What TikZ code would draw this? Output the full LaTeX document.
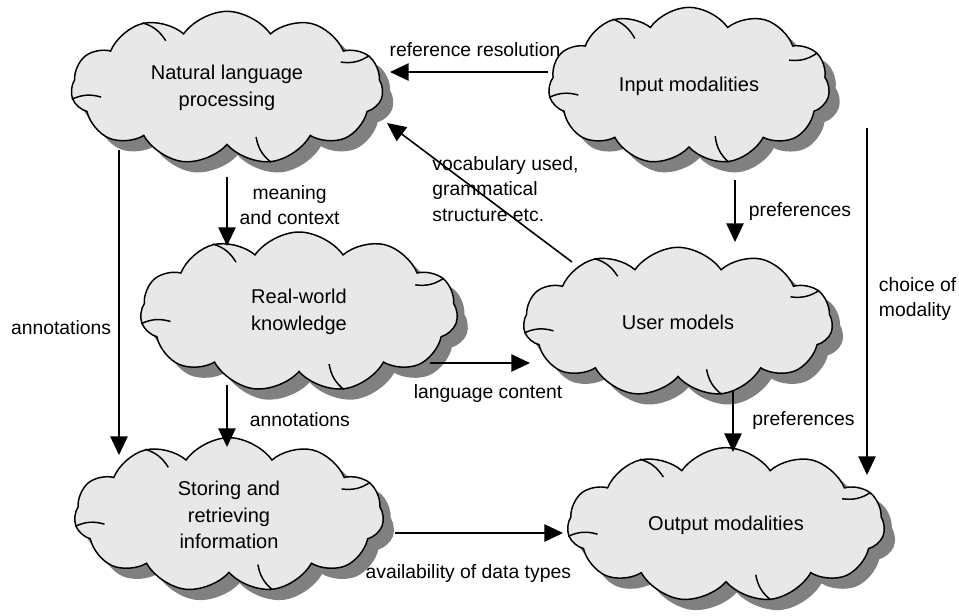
\documentclass[tikz,border=0pt]{standalone}
\usepackage{fontspec}
\setmainfont{Liberation Sans}
\usetikzlibrary{positioning,arrows.meta,shapes.symbols,shadows,calc}

\begin{document}
\begin{tikzpicture}[x=0.75pt,y=-0.75pt,>={Triangle[length=14pt,width=13pt]},
  blob/.style={cloud,cloud puffs=11,cloud puff arc=110,cloud ignores aspect,draw,line width=1.1pt,fill=black!9,
    drop shadow={shadow xshift=8pt,shadow yshift=-8pt,fill=black!50,opacity=1},
    align=center,font=\fontsize{15}{20}\selectfont},
  lbl/.style={font=\fontsize{14.5}{19}\selectfont,align=left,inner sep=1pt},
  link/.style={->,line width=1.2pt}]
\useasboundingbox (0,0) rectangle (959,615);
% the six subject areas
\node[blob,minimum width=234pt,minimum height=115pt] (nlp) at (227,88) {Natural language\\processing};
\node[blob,minimum width=211pt,minimum height=118pt] (input) at (689,86) {Input modalities};
\node[blob,minimum width=238pt,minimum height=120pt] (world) at (299,312) {Real-world\\knowledge};
\node[blob,minimum width=232pt,minimum height=112pt] (user) at (678,322) {User models};
\node[blob,minimum width=232pt,minimum height=116pt] (store) at (229,515) {Storing and\\retrieving\\information};
\node[blob,minimum width=238pt,minimum height=116pt] (output) at (726,525) {Output modalities};
% little curls inside the clouds
\foreach \c in {nlp,input,world,user,store,output}
  \foreach \p in {2,4,7,10}
    \draw[line width=1.1pt] (\c.puff \p) to[bend left=20] ($(\c.puff \p)!22pt!(\c.center)$);
% dependencies
\draw[link] ($(input)+(-141,-14)$) -- ($(nlp)+(163,-16)$) node[midway,lbl,xshift=4.5pt,yshift=16.5pt]{reference resolution};
\draw[link] ($(user)+(-106,-60)$) -- ($(nlp)+(160,35)$) node[midway,lbl,xshift=19.5pt,yshift=2.6pt]{vocabulary used,\\grammatical\\structure etc.};
\draw[link] ($(nlp)+(0,89)$) -- ($(world)+(-72,-66)$) node[midway,lbl,align=center,xshift=47pt,yshift=5pt]{meaning\\and context};
\draw[link] ($(input)+(46,94)$) -- ($(user)+(57,-80)$) node[midway,lbl,xshift=48.7pt,yshift=-0.7pt]{preferences};
\draw[link] ($(input)+(178,42)$) -- ($(output)+(141,-50)$) node[midway,lbl,xshift=38pt,yshift=2pt]{choice of\\modality};
\draw[link] ($(nlp)+(-108,62)$) -- ($(store)+(-110,-60)$) node[midway,lbl,xshift=-43.5pt,yshift=-19pt]{annotations};
\draw[link] ($(world)+(-72,73)$) -- ($(store)+(-2,-68)$) node[midway,lbl,xshift=54.7pt,yshift=-3pt]{annotations};
\draw[link] ($(world)+(131,51)$) -- ($(user)+(-148,41)$) node[midway,lbl,xshift=6pt,yshift=-22.5pt]{language content};
\draw[link] ($(user)+(55,68)$) -- ($(output)+(7,-73)$) node[midway,lbl,xshift=52.9pt,yshift=0.7pt]{preferences};
\draw[link] ($(store)+(166,18)$) -- ($(output)+(-163,8)$) node[midway,lbl,xshift=-8pt,yshift=-30pt]{availability of data types};
\end{tikzpicture}
\end{document}
